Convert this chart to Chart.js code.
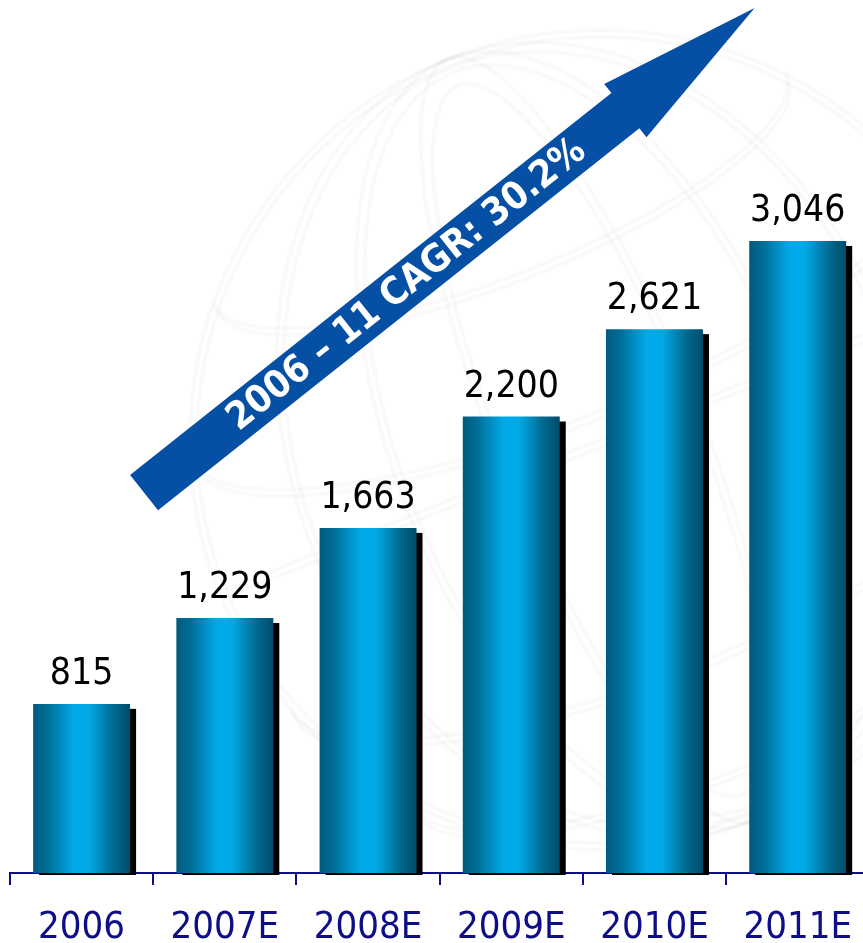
<!DOCTYPE html>
<html>
<head>
<meta charset="utf-8">
<script src="https://cdn.jsdelivr.net/npm/chart.js@4/dist/chart.umd.min.js"></script>
<style>
  html, body { margin: 0; padding: 0; background: #ffffff; overflow: hidden; }
  #wrap { width: 863px; height: 943px; overflow: hidden; }
  canvas { display: block; }
</style>
</head>
<body>
<div id="wrap"><canvas id="c" width="872" height="943"></canvas></div>
<script>
// Revenue by year (with estimates)
const categories = ['2006', '2007E', '2008E', '2009E', '2010E', '2011E'];
const revenue = [815, 1229, 1663, 2200, 2621, 3046];
const yMax = 4200;
const cagrLabel = '2006 – 11 CAGR: 30.2%';

// Growth arrow anchors, in axis units (category index, value)
const arrowTail = [0.436, 1833];
const arrowTip = [4.699, 4169];

const NAVY = '#0e0e86';
const FONT = "'DejaVu Sans Condensed', 'DejaVu Sans', sans-serif";
const BAR_FRACTION = 0.677;

function barGradient(ctx) {
  const chart = ctx.chart;
  if (!chart.chartArea) return '#00a8e6';
  const xs = chart.scales.x;
  const cx = xs.getPixelForValue(ctx.dataIndex);
  const w = (xs.width / categories.length) * BAR_FRACTION;
  const g = chart.ctx.createLinearGradient(cx - w / 2, 0, cx + w / 2, 0);
  g.addColorStop(0.00, '#005a7e');
  g.addColorStop(0.15, '#006e98');
  g.addColorStop(0.42, '#00aae8');
  g.addColorStop(0.58, '#00a9e6');
  g.addColorStop(0.82, '#006b92');
  g.addColorStop(1.00, '#004c6a');
  return g;
}

// Faint globe watermark behind everything
const globePlugin = {
  id: 'globe',
  beforeDraw(chart) {
    const c = chart.ctx;
    c.save();
    c.fillStyle = '#ffffff';
    c.fillRect(0, 0, chart.width, chart.height);
    c.translate(600, 440);
    c.rotate(-0.38);
    c.strokeStyle = 'rgba(60,40,40,0.025)';
    c.lineWidth = 4;
    const R = 410;
    const ring = (rx, ry, cy) => {
      for (const d of [0, 7]) {
        c.beginPath();
        c.ellipse(0, cy, Math.max(rx - d, 1), Math.max(ry - d * ry / Math.max(rx, 1), 1), 0, 0, Math.PI * 2);
        c.stroke();
      }
    };
    ring(R, R, 0);
    for (const k of [0.25, 0.5, 0.75]) ring(R * k, R, 0);
    for (const lat of [-0.66, -0.33, 0.33, 0.66]) {
      const cy = R * lat;
      const rx = Math.sqrt(R * R - cy * cy);
      for (const d of [0, 7]) {
        c.beginPath();
        c.ellipse(0, cy + d, rx, rx * 0.28, 0, 0, Math.PI);
        c.stroke();
      }
    }
    for (const d of [0, 7]) {
      c.beginPath();
      c.moveTo(-R, d);
      c.lineTo(R, d);
      c.stroke();
    }
    c.restore();
  }
};

// Drop shadow behind each bar
const shadowPlugin = {
  id: 'barShadow',
  beforeDatasetsDraw(chart) {
    const c = chart.ctx;
    const meta = chart.getDatasetMeta(0);
    c.save();
    c.fillStyle = '#000000';
    meta.data.forEach(bar => {
      const p = bar.getProps(['x', 'y', 'width', 'base'], true);
      c.fillRect(p.x - p.width / 2 + 6, p.y + 5, p.width, p.base - p.y - 3);
    });
    c.restore();
  }
};

// Value labels above bars and the CAGR arrow
const annotatePlugin = {
  id: 'annotate',
  afterDatasetsDraw(chart) {
    const c = chart.ctx;
    const meta = chart.getDatasetMeta(0);
    c.save();
    c.fillStyle = '#000000';
    c.font = '37px ' + FONT;
    c.textAlign = 'center';
    c.textBaseline = 'alphabetic';
    meta.data.forEach((bar, i) => {
      const p = bar.getProps(['x', 'y'], true);
      c.fillText(revenue[i].toLocaleString('en-US'), p.x, p.y - 20);
    });

    const xs = chart.scales.x, ys = chart.scales.y;
    const tx = xs.getPixelForValue(arrowTail[0]), ty = ys.getPixelForValue(arrowTail[1]);
    const hx = xs.getPixelForValue(arrowTip[0]), hy = ys.getPixelForValue(arrowTip[1]);
    const len = Math.hypot(hx - tx, hy - ty);
    const ang = Math.atan2(hy - ty, hx - tx);
    const half = 22.5, headLen = 165, headHalf = 34;
    c.translate(tx, ty);
    c.rotate(ang);
    c.fillStyle = '#0550a4';
    c.beginPath();
    c.moveTo(0, -half);
    c.lineTo(len - headLen, -half);
    c.lineTo(len - headLen, -headHalf);
    c.lineTo(len, 0);
    c.lineTo(len - headLen, headHalf);
    c.lineTo(len - headLen, half);
    c.lineTo(0, half);
    c.closePath();
    c.fill();
    c.fillStyle = '#ffffff';
    c.font = 'bold 38px ' + FONT;
    c.textAlign = 'center';
    c.textBaseline = 'middle';
    c.fillText(cagrLabel, 335, 1);
    c.restore();
  }
};

new Chart(document.getElementById('c'), {
  type: 'bar',
  data: {
    labels: categories,
    datasets: [{
      data: revenue,
      backgroundColor: barGradient,
      borderWidth: 0,
      categoryPercentage: 1,
      barPercentage: BAR_FRACTION
    }]
  },
  options: {
    responsive: false,
    animation: false,
    devicePixelRatio: 1,
    layout: { padding: { top: 1.5, left: 10, right: 0, bottom: 0 } },
    plugins: { legend: { display: false }, tooltip: { enabled: false } },
    scales: {
      x: {
        offset: true,
        afterFit(axis) { axis.height = 70; },
        grid: { offset: true, drawOnChartArea: false, drawTicks: true, tickLength: 12, color: NAVY, lineWidth: 2 },
        border: { display: true, color: NAVY, width: 2 },
        ticks: { color: NAVY, font: { family: FONT, size: 38 }, padding: 20, maxRotation: 0, autoSkip: false }
      },
      y: { display: false, min: 0, max: yMax }
    }
  },
  plugins: [globePlugin, shadowPlugin, annotatePlugin]
});
</script>
</body>
</html>
